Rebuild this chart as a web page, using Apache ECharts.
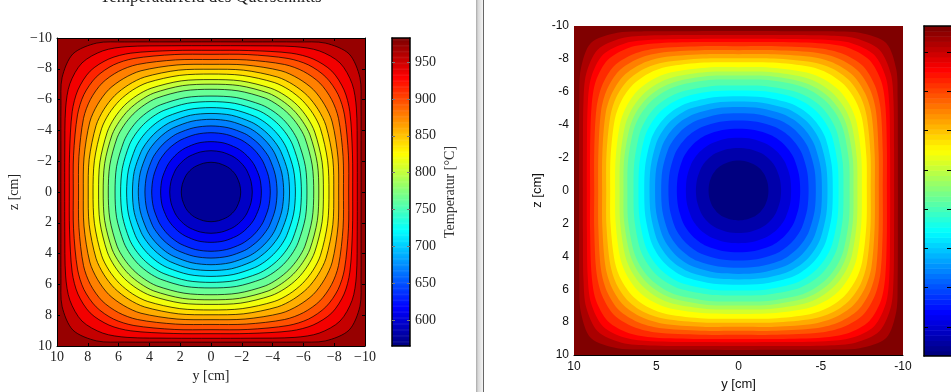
<!DOCTYPE html>
<html>
<head>
<meta charset="utf-8">
<style>html,body{margin:0;padding:0;background:#fff;overflow:hidden}</style>
<script src="https://cdn.jsdelivr.net/npm/echarts@6/dist/echarts.min.js"></script>
</head>
<body>
<div id="main" style="width:951px;height:392px;"></div>
<script>
// contour radii in cm, one row per contour from the centre outwards
// columns are the radius read at these angles from the axis (other octants are mirrored)
var angles = [0, 15, 30, 37.5, 45];
var leftRadii = [
  [1.93,1.93,1.94,1.95,1.95],
  [2.68,2.69,2.71,2.72,2.72],
  [3.27,3.29,3.31,3.32,3.32],
  [3.85,3.87,3.91,3.92,3.93],
  [4.29,4.32,4.38,4.39,4.40],
  [4.72,4.76,4.83,4.86,4.86],
  [5.10,5.16,5.24,5.27,5.28],
  [5.48,5.55,5.67,5.72,5.73],
  [5.87,5.96,6.12,6.18,6.20],
  [6.23,6.35,6.54,6.62,6.65],
  [6.67,6.80,7.04,7.12,7.15],
  [7.00,7.15,7.42,7.51,7.55],
  [7.30,7.47,7.78,7.90,7.95],
  [7.66,7.84,8.21,8.35,8.40],
  [7.97,8.19,8.62,8.78,8.85],
  [8.29,8.54,9.09,9.30,9.40],
  [8.60,8.88,9.56,9.87,10.00],
  [8.94,9.24,10.01,10.40,10.55],
  [9.20,9.51,10.41,10.89,11.10],
  [9.50,9.83,10.90,11.55,11.85],
  [9.75,10.09,11.25,12.19,12.68]
];
var rightRadii = [
  [1.82,1.83,1.85,1.85,1.86],
  [2.59,2.61,2.65,2.67,2.67],
  [3.20,3.24,3.30,3.32,3.33],
  [3.75,3.80,3.90,3.93,3.94],
  [4.26,4.33,4.46,4.50,4.52],
  [4.70,4.79,4.95,5.01,5.03],
  [5.07,5.18,5.37,5.45,5.48],
  [5.41,5.53,5.77,5.86,5.90],
  [5.73,5.87,6.15,6.26,6.30],
  [6.08,6.24,6.57,6.70,6.75],
  [6.38,6.56,6.94,7.09,7.15],
  [6.75,6.95,7.36,7.53,7.59],
  [6.99,7.20,7.64,7.83,7.90],
  [7.23,7.45,7.95,8.16,8.24],
  [7.50,7.73,8.29,8.53,8.63],
  [7.80,8.05,8.68,8.97,9.09],
  [8.04,8.31,9.00,9.35,9.49],
  [8.29,8.57,9.33,9.70,9.87],
  [8.53,8.82,9.65,10.08,10.28],
  [8.77,9.08,9.97,10.46,10.70],
  [9.02,9.34,10.31,10.93,11.23],
  [9.22,9.54,10.58,11.29,11.66],
  [9.46,9.79,10.88,11.67,12.11],
  [9.69,10.03,11.17,12.09,12.69]
];
var colorbarTicks = [600, 650, 700, 750, 800, 850, 900, 950];
var leftRange = [565, 982.6];
var rightRange = [563, 983];

function clamp(v) { return Math.max(0, Math.min(1, v)); }
function jet(t) {
  var r = clamp(1.5 - Math.abs(4 * t - 3));
  var g = clamp(1.5 - Math.abs(4 * t - 2));
  var b = clamp(1.5 - Math.abs(4 * t - 1));
  return 'rgb(' + Math.round(r * 255) + ',' + Math.round(g * 255) + ',' + Math.round(b * 255) + ')';
}

// one full contour, mirrored from the octant readings
function contourPoints(row) {
  var pts = [], i, q;
  var oct = [];
  for (i = 0; i < angles.length; i++) oct.push([angles[i], row[i]]);
  for (i = angles.length - 2; i > 0; i--) oct.push([90 - angles[i], row[i]]);
  for (q = 0; q < 4; q++) {
    for (i = 0; i < oct.length; i++) {
      var a = (oct[i][0] + q * 90) * Math.PI / 180;
      pts.push([oct[i][1] * Math.cos(a), oct[i][1] * Math.sin(a)]);
    }
  }
  return pts;
}

function contourSeries(radii, colors, axisIndex, stroke) {
  var rows = radii.slice().reverse();
  return {
    type: 'custom', xAxisIndex: axisIndex, yAxisIndex: axisIndex, silent: true, clip: true,
    data: rows.map(function (r, i) { return [i]; }),
    renderItem: function (params, api) {
      var i = api.value(0);
      return {
        type: 'polygon',
        shape: { smooth: 0.3, points: contourPoints(rows[i]).map(function (p) { return api.coord(p); }) },
        style: { fill: colors[i + 1], stroke: stroke, lineWidth: stroke === 'none' ? 0 : 0.7 }
      };
    }
  };
}

function colorbarSeries(range, n, axisIndex) {
  var cells = [];
  for (var i = 0; i < n; i++) cells.push([i]);
  return {
    type: 'custom', xAxisIndex: axisIndex, yAxisIndex: axisIndex, silent: true, clip: true,
    data: cells,
    renderItem: function (params, api) {
      var i = api.value(0);
      var step = (range[1] - range[0]) / n;
      var p0 = api.coord([0, range[0] + i * step]);
      var p1 = api.coord([1, range[0] + (i + 1) * step]);
      return {
        type: 'rect',
        shape: { x: p0[0], y: p1[1], width: p1[0] - p0[0], height: p0[1] - p1[1] + 0.5 },
        style: { fill: jet(i / (n - 1)) }
      };
    }
  };
}

var leftColors = [], rightColors = [], i;
for (i = 0; i < 22; i++) leftColors.push(jet(1 - (i + 0.5) / 22));
for (i = 0; i < 25; i++) rightColors.push(jet(1 - i / 24));

var serif = '"Liberation Serif"', sans = '"Liberation Sans"';
function minus(v) { return String(v).replace('-', '\u2212'); }

function frameAxis(grid, pos, extra) {
  return Object.assign({
    type: 'value', gridIndex: grid, position: pos, min: -10, max: 10, interval: 2, inverse: true, z: 5,
    splitLine: { show: false },
    axisLine: { show: true, onZero: false, lineStyle: { color: '#000', width: 1 } },
    axisTick: { show: true, inside: true, length: 3, lineStyle: { color: '#000' } },
    axisLabel: { show: false }
  }, extra || {});
}
var leftLabel = { show: true, fontFamily: serif, fontSize: 14, color: '#222', formatter: minus };
var rightLabel = { show: true, fontFamily: sans, fontSize: 12, color: '#111' };

var option = {
  animation: false,
  backgroundColor: '#fff',
  graphic: [
    { type: 'text', left: 100, top: -11, style: { text: 'Temperaturfeld des Querschnitts', font: '17px ' + serif, fill: '#222' } },
    { type: 'text', x: 450, y: 192, rotation: Math.PI / 2, style: { text: 'Temperatur [\u00b0C]', font: '14px ' + serif, fill: '#333', align: 'center', verticalAlign: 'middle' } },
    { type: 'rect', shape: { x: 476, y: 0, width: 7, height: 392 }, style: { fill: new echarts.graphic.LinearGradient(0, 0, 1, 0, [
      { offset: 0, color: '#a8a8a8' }, { offset: 0.3, color: '#d8d8d8' }, { offset: 1, color: '#f4f4f4' }]) } },
    { type: 'rect', shape: { x: 483, y: 0, width: 1, height: 392 }, style: { fill: '#666' } }
  ],
  grid: [
    { left: 57, top: 38, width: 308, height: 308, show: true, backgroundColor: leftColors[0], borderWidth: 0, outerBoundsMode: 'none' },
    { left: 392, top: 38, width: 18, height: 308, outerBoundsMode: 'none' },
    { left: 574, top: 26, width: 329, height: 329, show: true, backgroundColor: rightColors[0], borderWidth: 0, outerBoundsMode: 'none' },
    { left: 924, top: 26, width: 27, height: 330, outerBoundsMode: 'none' }
  ],
  xAxis: [
    frameAxis(0, 'bottom', {
      axisLabel: Object.assign({ margin: 4 }, leftLabel),
      name: 'y [cm]', nameLocation: 'middle', nameGap: 22,
      nameTextStyle: { fontFamily: serif, fontSize: 14, color: '#222' }
    }),
    { type: 'value', gridIndex: 1, min: 0, max: 1, position: 'bottom', z: 5, splitLine: { show: false }, axisTick: { show: false }, axisLabel: { show: false },
      axisLine: { show: true, onZero: false, lineStyle: { color: '#000', width: 1.5 } } },
    frameAxis(2, 'bottom', {
      interval: 5,
      axisTick: { show: false },
      axisLabel: Object.assign({ margin: 6 }, rightLabel),
      name: 'y [cm]', nameLocation: 'middle', nameGap: 22,
      nameTextStyle: { fontFamily: sans, fontSize: 13, color: '#111' }
    }),
    { type: 'value', gridIndex: 3, min: 0, max: 1, position: 'bottom', z: 5, splitLine: { show: false }, axisTick: { show: false }, axisLabel: { show: false },
      axisLine: { show: true, onZero: false, lineStyle: { color: '#000', width: 1.5 } } },
    frameAxis(0, 'top'),
    { type: 'value', gridIndex: 1, min: 0, max: 1, position: 'top', z: 5, splitLine: { show: false }, axisTick: { show: false }, axisLabel: { show: false },
      axisLine: { show: true, onZero: false, lineStyle: { color: '#000', width: 1.5 } } },
    { type: 'value', gridIndex: 3, min: 0, max: 1, position: 'top', z: 5, splitLine: { show: false }, axisTick: { show: false }, axisLabel: { show: false },
      axisLine: { show: true, onZero: false, lineStyle: { color: '#000', width: 1.5 } } }
  ],
  yAxis: [
    frameAxis(0, 'left', {
      axisLabel: Object.assign({ margin: 5 }, leftLabel),
      name: 'z [cm]', nameLocation: 'middle', nameGap: 36,
      nameTextStyle: { fontFamily: serif, fontSize: 14, color: '#222' }
    }),
    { type: 'value', gridIndex: 1, min: leftRange[0], max: leftRange[1], position: 'right', z: 5, splitLine: { show: false },
      axisLine: { show: true, onZero: false, lineStyle: { color: '#000', width: 1.5 } },
      axisTick: { show: true, inside: true, length: 3, customValues: colorbarTicks, lineStyle: { color: '#777' } },
      axisLabel: { show: true, margin: 5, customValues: colorbarTicks, fontFamily: serif, fontSize: 14, color: '#222' } },
    frameAxis(2, 'left', {
      axisLine: { show: false, onZero: false },
      axisTick: { show: false },
      axisLabel: Object.assign({ margin: 5 }, rightLabel),
      name: 'z [cm]', nameLocation: 'middle', nameGap: 30,
      nameTextStyle: { fontFamily: sans, fontSize: 13, color: '#111' }
    }),
    { type: 'value', gridIndex: 3, min: rightRange[0], max: rightRange[1], position: 'left', z: 5, splitLine: { show: false },
      axisLine: { show: true, onZero: false, lineStyle: { color: '#000', width: 1.5 } },
      axisTick: { show: true, inside: true, length: 4, customValues: colorbarTicks, lineStyle: { color: '#000' } },
      axisLabel: { show: false } },
    frameAxis(0, 'right'),
    { type: 'value', gridIndex: 1, min: leftRange[0], max: leftRange[1], position: 'left', z: 5, splitLine: { show: false },
      axisLine: { show: true, onZero: false, lineStyle: { color: '#000', width: 1.5 } },
      axisTick: { show: true, inside: true, length: 3, customValues: colorbarTicks, lineStyle: { color: '#777' } },
      axisLabel: { show: false } },
    { type: 'value', gridIndex: 3, min: rightRange[0], max: rightRange[1], position: 'right', z: 5, splitLine: { show: false },
      axisLine: { show: false, onZero: false },
      axisTick: { show: true, inside: true, length: 4, customValues: colorbarTicks, lineStyle: { color: '#000' } },
      axisLabel: { show: false } }
  ],
  series: [
    contourSeries(leftRadii, leftColors, 0, '#000'),
    colorbarSeries(leftRange, 256, 1),
    contourSeries(rightRadii, rightColors, 2, 'none'),
    colorbarSeries(rightRange, 64, 3)
  ]
};

var myChart = echarts.init(document.getElementById('main'), null, { renderer: 'canvas' });
myChart.setOption(option);
</script>
</body>
</html>
